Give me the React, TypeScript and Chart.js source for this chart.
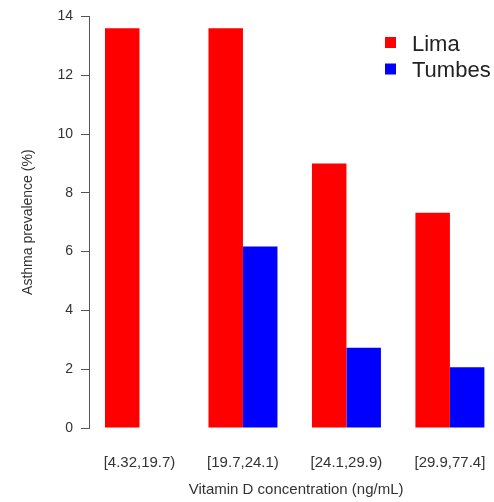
import React, { useEffect, useRef } from "react";
import { Chart, registerables } from "chart.js";

Chart.register(...registerables);

const categories = ["[4.32,19.7)", "[19.7,24.1)", "[24.1,29.9)", "[29.9,77.4]"];
const limaValues = [13.6, 13.6, 9.0, 7.32];
const tumbesValues = [0, 6.17, 2.73, 2.07];
const yTicks = [0, 2, 4, 6, 8, 10, 12, 14];
const seriesNames = ["Lima", "Tumbes"];
const seriesColors = ["#FF0000", "#0000FF"];
const xTitle = "Vitamin D concentration (ng/mL)";
const yTitle = "Asthma prevalence (%)";

const FONT = "'Liberation Sans', Arial, Helvetica, sans-serif";
const TEXT = "#333333";
const LINE = "#555555";

const legendPlugin = {
  id: "rLegend",
  afterDraw(chart: any) {
    const ctx = chart.ctx;
    ctx.save();
    chart.data.datasets.forEach((ds: any, i: number) => {
      const cy = 42.5 + i * 26.5;
      ctx.fillStyle = ds.backgroundColor;
      ctx.fillRect(385, cy - 5.5, 11, 11);
      ctx.fillStyle = "#222222";
      ctx.font = `22px ${FONT}`;
      ctx.textBaseline = "middle";
      ctx.textAlign = "left";
      ctx.fillText(ds.label, 412, cy + 2);
    });
    ctx.restore();
  },
};

export default function App() {
  const ref = useRef<HTMLCanvasElement>(null);

  useEffect(() => {
    if (!ref.current) return;
    const series = [limaValues, tumbesValues];
    const chart = new Chart(ref.current, {
      type: "bar",
      data: {
        datasets: series.map((vals, s) => ({
          label: seriesNames[s],
          data: vals.map((v, i) => ({ x: i, y: v })),
          backgroundColor: seriesColors[s],
          borderWidth: 0,
          categoryPercentage: 2 / 3,
          barPercentage: 1,
        })),
      },
      plugins: [legendPlugin],
      options: {
        responsive: false,
        animation: false,
        devicePixelRatio: 1,
        layout: { padding: { top: 15, right: 5, left: 0, bottom: 0 } },
        plugins: {
          legend: { display: false },
          tooltip: { enabled: false },
        },
        scales: {
          x: {
            type: "linear",
            min: -0.488,
            max: 3.515,
            offset: false,
            afterBuildTicks: (scale: any) => {
              scale.ticks = categories.map((_, i) => ({ value: i }));
            },
            afterFit: (scale: any) => {
              scale.height = 74;
            },
            grid: { display: false, drawTicks: false },
            border: { display: false },
            ticks: {
              autoSkip: false,
              maxRotation: 0,
              padding: 26,
              color: TEXT,
              font: { family: FONT, size: 15 },
              callback: (_v: any, i: number) => categories[i] ?? "",
            },
            title: {
              display: true,
              text: xTitle,
              color: TEXT,
              font: { family: FONT, size: 15 },
              padding: { top: 0, bottom: 3 },
            },
          },
          y: {
            min: 0,
            max: 14,
            afterBuildTicks: (scale: any) => {
              scale.ticks = yTicks.map((v) => ({ value: v }));
            },
            afterFit: (scale: any) => {
              scale.width = 89;
            },
            grid: {
              drawOnChartArea: false,
              drawTicks: true,
              tickLength: 8,
              color: LINE,
              lineWidth: 1,
            },
            border: { display: true, color: LINE, width: 1 },
            ticks: {
              padding: 8,
              color: TEXT,
              font: { family: FONT, size: 14 },
            },
            title: {
              display: true,
              text: yTitle,
              color: TEXT,
              font: { family: FONT, size: 14 },
              padding: { top: 20, bottom: 0 },
            },
          },
        },
      } as any,
    });
    return () => chart.destroy();
  }, []);

  return (
    <div
      style={{
        position: "absolute",
        left: 0,
        top: 0,
        width: 494,
        height: 502,
        overflow: "hidden",
        background: "#ffffff",
      }}
    >
      <canvas
        ref={ref}
        width={512}
        height={502}
        style={{ display: "block", width: 512, height: 502 }}
      />
    </div>
  );
}
